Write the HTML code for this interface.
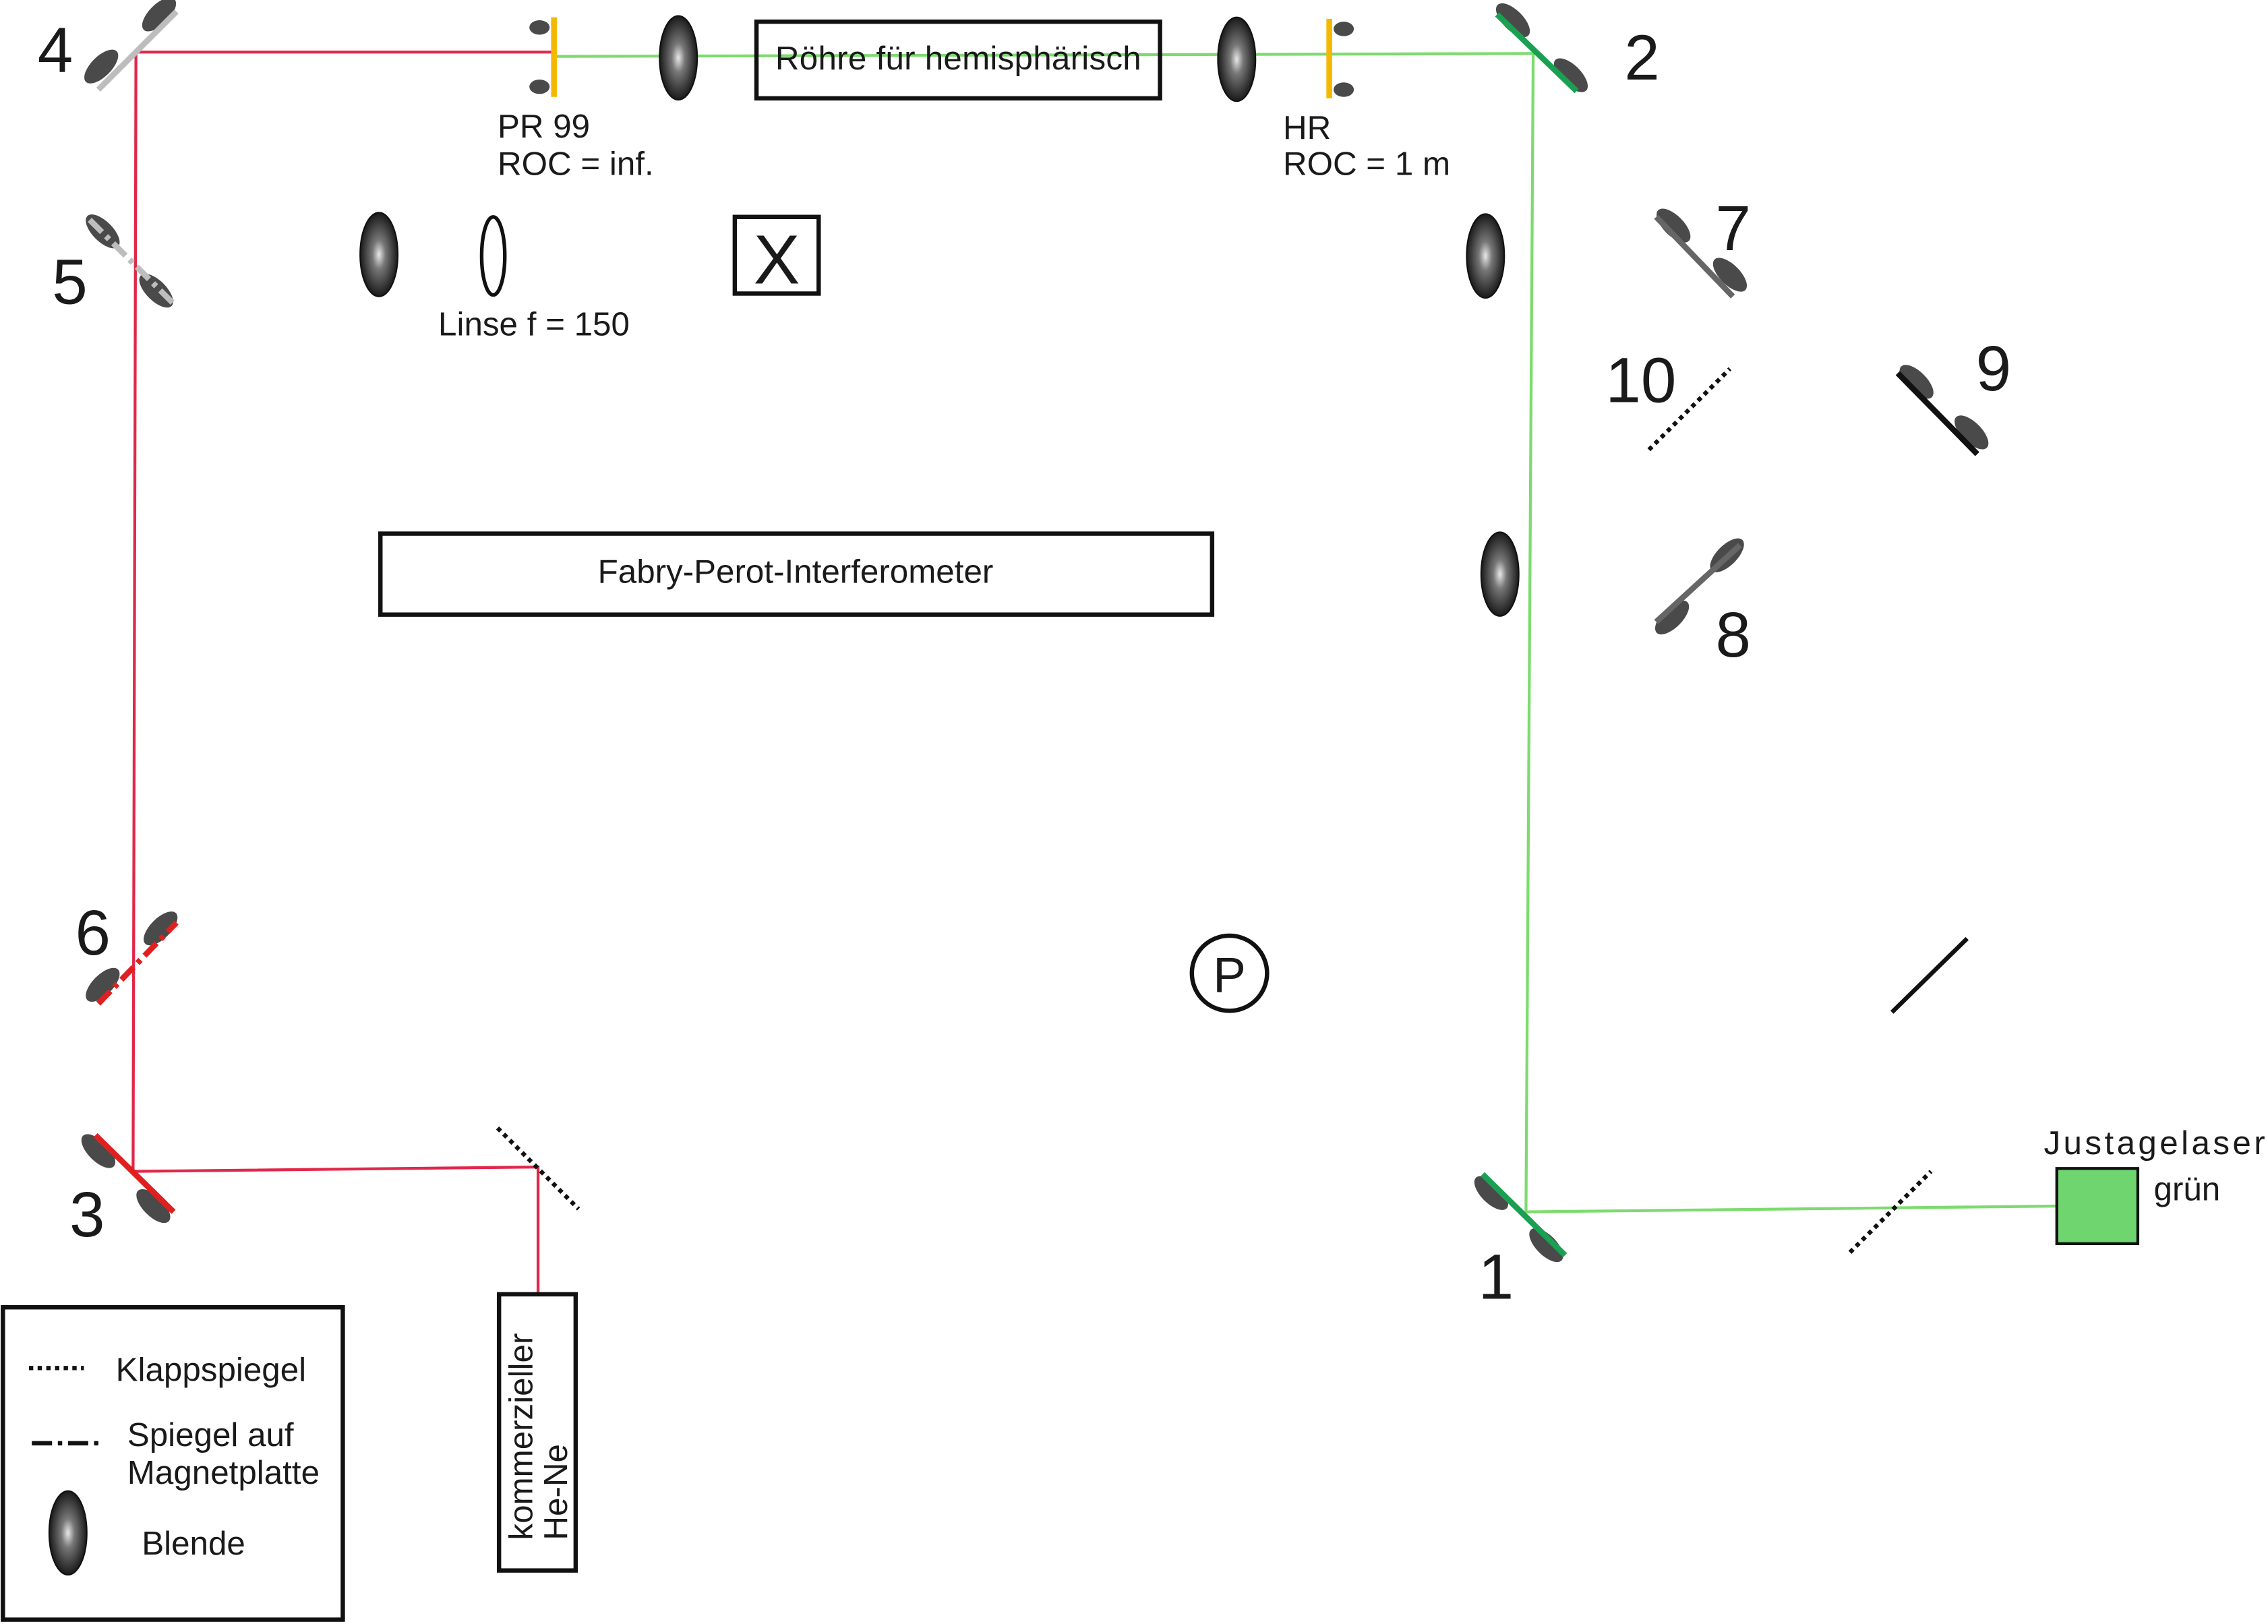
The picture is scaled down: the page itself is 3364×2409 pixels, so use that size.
<!DOCTYPE html>
<html><head><meta charset="utf-8"><style>
html,body{margin:0;padding:0;background:#fff;}
svg{display:block;}
text{font-family:"Liberation Sans",Arial,sans-serif;fill:#1a1a1a;}
</style></head><body>
<svg width="3364" height="2409" viewBox="0 0 1568 1123" preserveAspectRatio="none" xmlns="http://www.w3.org/2000/svg">
<defs>
<radialGradient id="bl" cx="0.5" cy="0.5" r="0.5">
<stop offset="0" stop-color="#e8e8e8"/><stop offset="0.35" stop-color="#777"/><stop offset="1" stop-color="#1a1a1a"/>
</radialGradient>
</defs>
<rect width="1568" height="1123" fill="#fff"/>
<g fill="none" stroke-width="2">
<polyline points="383,36 94,36 92,810 372,807 372,895" stroke="#e0284a"/>
<polyline points="383,39 1060,37 1055,838 1422,834" stroke="#7ddb6e"/>
</g>
<g fill="#4a4a4a">
<ellipse cx="70" cy="46" rx="15" ry="7" transform="rotate(-45 70 46)"/>
<ellipse cx="110" cy="10" rx="15" ry="7" transform="rotate(-45 110 10)"/>
<ellipse cx="1046" cy="14" rx="15" ry="7" transform="rotate(45 1046 14)"/>
<ellipse cx="1086" cy="52" rx="15" ry="7" transform="rotate(45 1086 52)"/>
<ellipse cx="1031" cy="825" rx="15" ry="7" transform="rotate(45 1031 825)"/>
<ellipse cx="1069" cy="861" rx="15" ry="7" transform="rotate(45 1069 861)"/>
<ellipse cx="68" cy="796" rx="15" ry="7" transform="rotate(45 68 796)"/>
<ellipse cx="106" cy="834" rx="15" ry="7" transform="rotate(45 106 834)"/>
<ellipse cx="71" cy="160" rx="15" ry="7" transform="rotate(45 71 160)"/>
<ellipse cx="108" cy="201" rx="15" ry="7" transform="rotate(45 108 201)"/>
<ellipse cx="71" cy="681" rx="15" ry="7" transform="rotate(-45 71 681)"/>
<ellipse cx="111" cy="642" rx="15" ry="7" transform="rotate(-45 111 642)"/>
<ellipse cx="1157" cy="156" rx="15" ry="7" transform="rotate(45 1157 156)"/>
<ellipse cx="1196" cy="190" rx="15" ry="7" transform="rotate(45 1196 190)"/>
<ellipse cx="1156" cy="427" rx="15" ry="7" transform="rotate(-45 1156 427)"/>
<ellipse cx="1194" cy="384" rx="15" ry="7" transform="rotate(-45 1194 384)"/>
<ellipse cx="1325" cy="264" rx="15" ry="7" transform="rotate(45 1325 264)"/>
<ellipse cx="1363" cy="299" rx="15" ry="7" transform="rotate(45 1363 299)"/>
<ellipse cx="373" cy="19" rx="7" ry="5"/><ellipse cx="373" cy="60" rx="7" ry="5"/>
<ellipse cx="929" cy="20" rx="7" ry="5"/><ellipse cx="929" cy="62" rx="7" ry="5"/>
</g>
<g stroke-width="4" fill="none">
<line x1="68" y1="62" x2="122" y2="8" stroke="#bdbdbd"/>
<line x1="1035" y1="10" x2="1090" y2="63" stroke="#1aa052"/>
<line x1="1025" y1="812" x2="1082" y2="868" stroke="#1aa052"/>
<line x1="66" y1="785" x2="120" y2="838" stroke="#e02020"/>
<line x1="62" y1="152" x2="120" y2="210" stroke="#bdbdbd" stroke-dasharray="12,4,3,4"/>
<line x1="68" y1="694" x2="122" y2="638" stroke="#e02020" stroke-dasharray="12,4,3,4"/>
<line x1="1145" y1="150" x2="1198" y2="205" stroke="#666"/>
<line x1="1145" y1="430" x2="1203" y2="377" stroke="#666"/>
<line x1="1312" y1="258" x2="1367" y2="314" stroke="#111"/>
<line x1="1308" y1="700" x2="1360" y2="649" stroke="#111" stroke-width="3"/>
<g stroke="#111" stroke-width="3" stroke-dasharray="3,3">
<line x1="1140" y1="311" x2="1196" y2="255"/>
<line x1="344" y1="780" x2="400" y2="836"/>
<line x1="1279" y1="866" x2="1335" y2="810"/>
<line x1="20" y1="946" x2="58" y2="946"/>
</g>
<line x1="22" y1="998" x2="70" y2="998" stroke="#111" stroke-width="3" stroke-dasharray="14,4,3,4"/>
<line x1="383" y1="12" x2="383" y2="67" stroke="#f5b800"/>
<line x1="919" y1="13" x2="919" y2="68" stroke="#f5b800"/>
</g>
<g fill="url(#bl)" stroke="#111" stroke-width="1">
<ellipse cx="469" cy="40" rx="13" ry="29"/>
<ellipse cx="855" cy="41" rx="13" ry="29"/>
<ellipse cx="262" cy="176" rx="13" ry="29"/>
<ellipse cx="1027" cy="177" rx="13" ry="29"/>
<ellipse cx="1037" cy="397" rx="13" ry="29"/>
<ellipse cx="47" cy="1060" rx="13" ry="29"/>
</g>
<ellipse cx="341" cy="177" rx="8" ry="27" fill="none" stroke="#111" stroke-width="2.5"/>
<g fill="none" stroke="#111" stroke-width="3">
<rect x="523" y="15" width="279" height="53"/>
<rect x="508" y="150" width="58" height="53"/>
<rect x="263" y="369" width="575" height="56"/>
<rect x="345" y="895" width="53" height="191"/>
<rect x="2" y="904" width="235" height="216"/>
<circle cx="850" cy="673" r="26"/>
</g>
<rect x="1422" y="808" width="56" height="52" fill="#6fd56f" stroke="#111" stroke-width="2"/>
<g font-size="44">
<text x="26" y="50">4</text>
<text x="1123" y="55">2</text>
<text x="36" y="210">5</text>
<text x="1186" y="173">7</text>
<text x="1110" y="278">10</text>
<text x="1366" y="270">9</text>
<text x="1186" y="454">8</text>
<text x="52" y="660">6</text>
<text x="48" y="855">3</text>
<text x="1022" y="898">1</text>
</g>
<text x="537" y="196" font-size="48" text-anchor="middle">X</text>
<text x="850" y="686" font-size="34" text-anchor="middle">P</text>
<g font-size="23">
<text x="536" y="48" textLength="253">Röhre für hemisphärisch</text>
<text x="344" y="95">PR 99</text>
<text x="344" y="121">ROC = inf.</text>
<text x="887" y="96">HR</text>
<text x="887" y="121">ROC = 1 m</text>
<text x="303" y="232">Linse f = 150</text>
<text x="550" y="403" text-anchor="middle">Fabry-Perot-Interferometer</text>
<text x="1413" y="798" textLength="153">Justagelaser</text>
<text x="1489" y="830">grün</text>
<text x="80" y="955">Klappspiegel</text>
<text x="88" y="1000">Spiegel auf</text>
<text x="88" y="1026">Magnetplatte</text>
<text x="98" y="1075">Blende</text>
<text transform="translate(368,1065) rotate(-90)">kommerzieller</text>
<text transform="translate(392,1065) rotate(-90)">He-Ne</text>
</g>
</svg>
</body></html>
